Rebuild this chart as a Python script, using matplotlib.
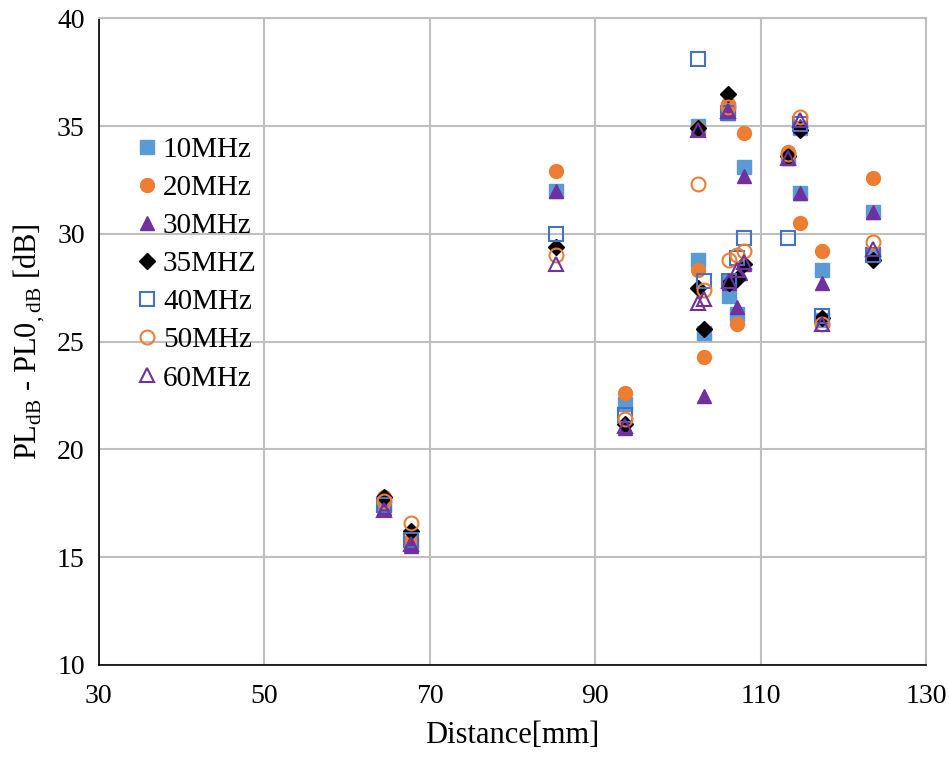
import matplotlib
matplotlib.use("Agg")
import matplotlib.pyplot as plt

plt.rcParams['font.family'] = ['Liberation Serif', 'DejaVu Serif']
plt.rcParams['mathtext.fontset'] = 'custom'
plt.rcParams['mathtext.rm'] = 'Liberation Serif'

# data
x_10 = [64.5, 67.7, 85.3, 93.6, 102.4, 102.4, 103.1, 106.1, 106.2, 106.2, 107.1, 108.0, 113.3, 114.8, 114.8, 117.4, 117.4, 123.6, 123.6]
y_10 = [17.4, 15.6, 32.0, 22.1, 35.0, 28.8, 25.4, 35.8, 27.8, 27.1, 26.3, 33.1, 33.5, 31.9, 34.9, 28.3, 26.0, 31.0, 29.0]

x_20 = [64.5, 67.7, 85.3, 93.6, 102.4, 102.4, 103.1, 106.1, 107.1, 108.0, 113.3, 114.8, 117.4, 123.6]
y_20 = [17.8, 15.8, 32.9, 22.6, 34.9, 28.3, 24.3, 36.0, 25.8, 34.7, 33.8, 30.5, 29.2, 32.6]

x_30 = [64.5, 67.7, 85.3, 93.6, 102.4, 103.1, 106.1, 106.2, 107.1, 107.5, 108.0, 108.0, 113.3, 114.8, 114.8, 117.4, 123.6]
y_30 = [17.3, 15.5, 32.0, 21.0, 34.9, 22.5, 35.6, 27.7, 26.6, 28.2, 32.7, 28.6, 33.5, 31.9, 35.0, 27.7, 31.0]

x_35 = [64.5, 67.7, 85.3, 93.6, 102.4, 102.4, 103.1, 106.1, 106.2, 107.1, 108.0, 113.3, 114.8, 117.4, 123.6]
y_35 = [17.8, 16.2, 29.4, 21.2, 34.9, 27.5, 25.6, 36.5, 27.7, 27.9, 28.6, 33.6, 34.8, 26.1, 28.8]

x_40 = [64.5, 67.7, 85.3, 93.6, 102.4, 103.1, 106.1, 106.2, 107.1, 108.0, 113.3, 114.8, 117.4, 123.6]
y_40 = [17.4, 15.8, 30.0, 21.6, 38.1, 27.8, 35.6, 27.8, 28.9, 29.8, 29.8, 35.1, 26.2, 29.0]

x_50 = [64.5, 67.7, 85.3, 93.6, 102.4, 103.1, 106.1, 106.2, 107.1, 108.0, 113.3, 114.8, 117.4, 123.6]
y_50 = [17.6, 16.6, 29.0, 21.4, 32.3, 27.4, 35.9, 28.8, 29.0, 29.2, 33.7, 35.4, 25.8, 29.6]

x_60 = [64.5, 67.7, 85.3, 93.6, 102.4, 102.4, 103.1, 106.1, 106.2, 107.1, 108.0, 113.3, 114.8, 117.4, 123.6]
y_60 = [17.2, 15.6, 28.6, 21.1, 34.8, 26.8, 27.0, 35.7, 27.8, 28.3, 28.7, 33.5, 35.3, 25.8, 29.3]

labels = ['10MHz', '20MHz', '30MHz', '35MHZ', '40MHz', '50MHz', '60MHz']

fig = plt.figure(figsize=(9.49, 7.6), dpi=100)
ax = fig.add_axes([0.104, 0.125, 0.872, 0.851])

ms = 10
ax.plot(x_10, y_10, 's', ms=ms, color='#5B9BD5', mec='#5B9BD5', label=labels[0])
ax.plot(x_20, y_20, 'o', ms=ms, color='#ED7D31', mec='#ED7D31', label=labels[1])
ax.plot(x_30, y_30, '^', ms=ms, color='#7030A0', mec='#7030A0', label=labels[2])
ax.plot(x_35, y_35, 'D', ms=8.5, color='black', mec='black', label=labels[3])
ax.plot(x_40, y_40, 's', ms=ms, mfc='none', mec='#4472C4', mew=1.5, label=labels[4])
ax.plot(x_50, y_50, 'o', ms=ms, mfc='none', mec='#ED7D31', mew=1.5, label=labels[5])
ax.plot(x_60, y_60, '^', ms=ms, mfc='none', mec='#7030A0', mew=1.5, label=labels[6])

ax.set_xlim(30, 130)
ax.set_ylim(10, 40)
ax.set_xticks(range(30, 131, 20))
ax.set_yticks(range(10, 41, 5))
ax.grid(True, color='#BFBFBF', lw=1.5)
ax.set_axisbelow(True)
ax.tick_params(labelsize=20, length=0)
ax.tick_params(axis='x', pad=14)
ax.tick_params(axis='y', pad=10)
for s in ['top', 'right']:
    ax.spines[s].set_color('#BFBFBF')
    ax.spines[s].set_linewidth(1.5)
for s in ['left', 'bottom']:
    ax.spines[s].set_color('black')
    ax.spines[s].set_linewidth(1.2)

ax.set_xlabel('Distance[mm]', fontsize=22, labelpad=8)
ax.set_ylabel(r'PL$_{\mathrm{dB}}$ - PL0$_{\mathrm{,dB}}$ [dB]', fontsize=22, labelpad=8)

ax.legend(loc='upper left', bbox_to_anchor=(0.03, 0.835), frameon=False, fontsize=21,
          handletextpad=0.15, handlelength=0.8, labelspacing=0.4, borderaxespad=0)

fig.savefig('out.png', dpi=100)
